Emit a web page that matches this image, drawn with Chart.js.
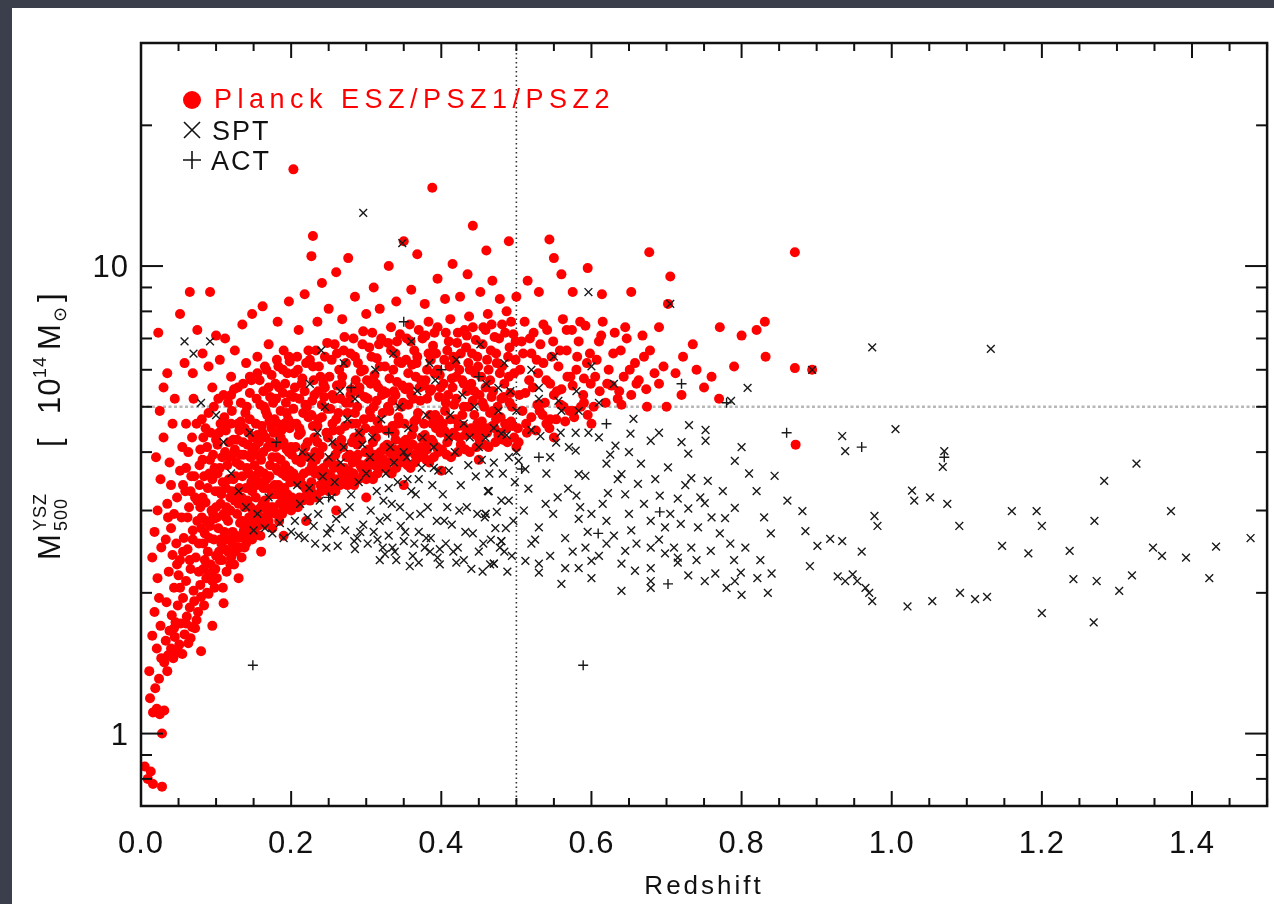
<!DOCTYPE html>
<html><head><meta charset="utf-8">
<script src="https://cdn.jsdelivr.net/npm/chart.js@4.4.1/dist/chart.umd.min.js"></script>
<style>
html,body{margin:0;padding:0;background:#3b3f4b;overflow:hidden;}
#wrap{position:absolute;left:0;top:0;width:1274px;height:904px;}
</style></head><body>
<div id="wrap"><canvas id="c" width="1274" height="904"></canvas></div>
<script>
// ---------- axis definitions ----------
const xMajorTicks = [0.0, 0.2, 0.4, 0.6, 0.8, 1.0, 1.2, 1.4];
const xTickLabels = ['0.0', '0.2', '0.4', '0.6', '0.8', '1.0', '1.2', '1.4'];
const yMajorTicks = [1, 10];
const yTickLabels = ['1', '10'];
const yMinorTicks = [0.7, 0.8, 0.9, 2, 3, 4, 5, 6, 7, 8, 9, 20, 30];
const xRange = [0, 1.5];
const yRange = [0.7, 30];
const refRedshift = 0.5;
const refMass = 5;
const seriesNames = ['Planck ESZ/PSZ1/PSZ2', 'SPT', 'ACT'];
const xTitle = 'Redshift';

// ---------- Planck (z, M500 [1e14 Msun]) ----------
const planckLowZ = [[0.005,0.85],[0.009,0.80],[0.013,0.83],[0.016,0.78],[0.028,0.77],[0.028,1.0],[0.016,1.11],[0.021,1.13],[0.025,1.10],[0.031,1.12],[0.012,1.19],[0.019,1.25],[0.024,1.31],[0.011,1.36],[0.027,1.45],[0.021,1.52],[0.015,1.62],[0.026,1.7],[0.018,1.82],[0.024,1.95],[0.015,2.38],[0.022,2.15],[0.027,2.5],[0.023,7.2],[0.035,3.1],
  [0.018,2.7],[0.022,3.0],[0.026,3.5],[0.02,3.9],[0.03,4.3],[0.025,4.9],[0.033,2.6],[0.036,2.9],[0.038,3.8],[0.03,5.5],[0.042,4.6],[0.035,5.9],[0.045,5.2]];
const planckA = [[0.031,1.42],[0.033,1.58],[0.034,1.91],[0.036,1.47],[0.037,2.22],[0.038,1.66],[0.040,1.52],[0.041,1.79],[0.042,2.41],[0.043,1.45],[0.044,2.05],[0.045,1.61],[0.046,1.73],[0.047,2.55],[0.048,1.49],[0.049,1.88],[0.05,2.18],[0.035,1.36],
  [0.040,2.75],[0.040,3.4],[0.044,2.95],[0.044,1.68],[0.048,3.2],[0.048,2.3],[0.052,3.65],[0.052,2.05],[0.056,3.4],[0.056,2.45],[0.060,3.7],[0.060,1.72]];
const planckB = [[0.051,1.55],[0.052,2.35],[0.053,1.72],[0.054,2.9],[0.055,1.48],[0.056,1.95],[0.057,2.62],[0.058,1.63],[0.059,3.3],[0.06,2.12],[0.061,1.78],[0.062,2.48],[0.063,1.56],[0.064,3.05],[0.065,1.86],[0.066,2.25],[0.067,3.55],[0.068,1.69],[0.069,2.72],[0.07,2.02],[0.071,1.92],[0.072,3.2],[0.073,2.38],[0.074,1.75],[0.075,2.85],[0.066,1.6],
  [0.062,2.9],[0.063,4.0],[0.065,2.35],[0.066,3.3],[0.068,4.3],[0.069,2.6],[0.071,3.55],[0.072,1.68],[0.074,4.6],[0.075,3.15],[0.077,2.22],[0.078,3.75],[0.079,4.05],[0.08,2.75]];
const planckC = [[0.076,1.82],[0.077,2.55],[0.078,3.4],[0.079,2.08],[0.08,1.96],[0.081,2.9],[0.082,3.85],[0.083,2.25],[0.084,1.88],[0.085,2.68],[0.086,3.12],[0.087,2.15],[0.088,4.1],[0.089,2.45],[0.09,1.99],[0.091,3.6],[0.092,2.78],[0.093,2.3],[0.094,3.0],[0.095,2.12],[0.096,3.95],[0.097,2.6],[0.098,2.05],[0.099,3.3],[0.1,2.4],[0.079,3.05],[0.085,2.35],[0.091,2.2],[0.097,2.88],[0.083,4.3],
  [0.081,4.7],[0.082,3.2],[0.083,2.55],[0.084,3.55],[0.086,4.5],[0.087,2.85],[0.088,2.0],[0.089,3.35],[0.09,4.85],[0.091,2.62],[0.092,3.85],[0.093,4.4],[0.094,2.2],[0.095,3.5],[0.096,2.95],[0.097,5.0],[0.098,3.7],[0.099,2.25],[0.1,4.25],[0.1,3.05]];
const planckD = [[0.101,2.15],[0.102,3.6],[0.103,2.75],[0.104,4.4],[0.105,2.35],[0.106,3.1],[0.107,2.55],[0.108,3.9],[0.109,2.05],[0.11,2.95],[0.111,4.75],[0.112,2.48],[0.113,3.35],[0.114,2.22],[0.115,3.75],[0.116,2.85],[0.117,4.2],[0.118,2.6],[0.119,3.2],[0.12,2.38],[0.121,4.9],[0.122,2.7],[0.123,3.5],[0.124,2.3],[0.125,4.05],[0.106,2.6],[0.113,2.9],[0.119,3.0],[0.104,3.3],[0.116,2.45],[0.122,3.95],[0.109,4.6],
  [0.101,2.9],[0.102,4.15],[0.103,5.2],[0.104,2.45],[0.105,3.7],[0.106,4.6],[0.107,3.25],[0.108,2.35],[0.109,3.45],[0.11,5.3],[0.111,2.7],[0.112,4.0],[0.113,4.45],[0.114,3.05],[0.115,2.6],[0.116,5.1],[0.117,3.5],[0.118,3.9],[0.119,2.3],[0.12,4.6],[0.121,3.3],[0.122,2.55],[0.123,4.25],[0.124,5.45],[0.125,3.15]];
const planckE = [[0.126,2.45],[0.127,3.8],[0.128,2.95],[0.129,4.6],[0.13,2.62],[0.131,3.35],[0.132,2.82],[0.133,5.1],[0.134,2.38],[0.135,3.55],[0.136,4.2],[0.137,2.72],[0.138,3.05],[0.139,4.85],[0.14,2.55],[0.141,3.7],[0.142,3.15],[0.143,4.4],[0.144,2.9],[0.145,5.35],[0.146,2.68],[0.147,3.45],[0.148,4.0],[0.149,3.0],[0.15,2.78],[0.128,3.25],[0.133,3.95],[0.138,2.5],[0.142,2.75],[0.146,3.9],[0.131,4.45],[0.148,3.3],
  [0.126,3.55],[0.127,2.65],[0.128,4.25],[0.129,5.5],[0.13,3.1],[0.131,2.5],[0.132,3.75],[0.133,4.65],[0.134,3.2],[0.135,2.85],[0.136,5.6],[0.137,3.95],[0.138,4.5],[0.139,2.62],[0.14,3.35],[0.141,5.0],[0.142,4.15],[0.143,2.8],[0.144,3.6],[0.145,4.7],[0.146,3.05],[0.147,5.7],[0.148,2.6],[0.149,4.3],[0.15,3.5]];
const planckF = [[0.151,2.7],[0.152,4.1],[0.153,3.2],[0.154,5.2],[0.155,2.88],[0.156,3.6],[0.157,3.02],[0.158,5.7],[0.159,2.65],[0.16,3.85],[0.161,4.55],[0.162,3.1],[0.163,3.35],[0.164,5.0],[0.165,2.8],[0.166,4.3],[0.167,3.5],[0.168,4.8],[0.169,3.0],[0.17,5.5],[0.171,2.95],[0.172,3.75],[0.173,4.2],[0.174,3.25],[0.175,2.75],[0.155,4.35],[0.159,3.45],[0.163,4.0],[0.167,2.92],[0.171,4.65],[0.153,3.95],[0.174,5.85],
  [0.151,3.75],[0.152,2.85],[0.153,4.6],[0.154,3.4],[0.155,5.9],[0.156,2.78],[0.157,4.2],[0.158,3.65],[0.159,5.05],[0.16,3.05],[0.161,2.9],[0.162,4.4],[0.163,5.4],[0.164,3.6],[0.165,3.15],[0.166,4.9],[0.167,6.0],[0.168,3.35],[0.169,4.1],[0.17,2.85],[0.171,3.55],[0.172,5.25],[0.173,3.05],[0.174,4.5],[0.175,3.9]];
const planckG = [[0.176,3.05],[0.177,4.4],[0.178,3.4],[0.179,5.6],[0.18,2.95],[0.181,3.9],[0.182,3.25],[0.183,6.1],[0.184,2.85],[0.185,4.15],[0.186,4.9],[0.187,3.3],[0.188,3.6],[0.189,5.35],[0.19,3.0],[0.191,4.6],[0.192,3.75],[0.193,5.1],[0.194,3.15],[0.195,5.9],[0.196,3.1],[0.197,4.0],[0.198,4.5],[0.199,3.45],[0.2,3.0],[0.178,4.7],[0.182,3.65],[0.186,4.3],[0.19,3.2],[0.194,4.85],[0.18,5.2],[0.198,6.25],
  [0.176,5.1],[0.177,3.25],[0.178,2.98],[0.179,4.1],[0.18,3.7],[0.181,6.3],[0.182,4.6],[0.183,3.4],[0.184,5.5],[0.185,3.1],[0.186,3.85],[0.187,4.45],[0.188,2.95],[0.189,6.0],[0.19,4.2],[0.191,3.35],[0.192,5.6],[0.193,3.55],[0.194,4.05],[0.195,3.25],[0.196,4.7],[0.197,6.4],[0.198,3.65],[0.199,5.3],[0.2,4.1]];
const planckH = [[0.201,3.2],[0.202,4.6],[0.203,3.6],[0.204,5.9],[0.205,3.1],[0.206,4.1],[0.207,3.45],[0.208,6.4],[0.209,3.05],[0.21,4.35],[0.211,5.2],[0.212,3.5],[0.213,3.8],[0.214,5.6],[0.215,3.15],[0.216,4.85],[0.217,3.95],[0.218,5.4],[0.219,3.35],[0.22,6.2],[0.221,3.25],[0.222,4.2],[0.223,4.75],[0.224,3.65],[0.225,3.15],[0.203,4.95],[0.207,3.85],[0.211,4.5],[0.215,3.4],[0.219,5.05],[0.205,5.5],[0.223,6.6],
  [0.201,3.95],[0.203,5.25],[0.205,3.55],[0.207,4.6],[0.209,6.0],[0.211,3.2],[0.213,4.4],[0.215,5.75],[0.217,3.6],[0.219,4.1],[0.221,5.0],[0.223,3.9],[0.225,6.3]];
const planckI = [[0.226,3.35],[0.227,4.8],[0.228,3.75],[0.229,6.1],[0.23,3.25],[0.231,4.3],[0.232,3.6],[0.233,6.6],[0.234,3.2],[0.235,4.55],[0.236,5.4],[0.237,3.65],[0.238,3.95],[0.239,5.8],[0.24,3.3],[0.241,5.05],[0.242,4.1],[0.243,5.6],[0.244,3.5],[0.245,6.4],[0.246,3.4],[0.247,4.4],[0.248,4.95],[0.249,3.8],[0.25,3.3],[0.228,5.15],[0.232,4.0],[0.236,4.7],[0.24,3.55],[0.244,5.25],[0.23,5.7],[0.248,6.85],
  [0.227,3.45],[0.229,4.55],[0.231,5.3],[0.233,3.85],[0.235,4.2],[0.237,6.1],[0.239,3.4],[0.241,4.75],[0.243,3.7],[0.245,5.5],[0.247,3.6],[0.249,4.3]];
const planckJ = [[0.251,3.45],[0.252,4.95],[0.253,3.85],[0.254,6.3],[0.255,3.35],[0.256,4.45],[0.257,3.7],[0.258,6.8],[0.259,3.3],[0.26,4.7],[0.261,5.55],[0.262,3.75],[0.263,4.05],[0.264,6.0],[0.265,3.4],[0.266,5.2],[0.267,4.25],[0.268,5.8],[0.269,3.6],[0.27,6.6],[0.271,3.5],[0.272,4.55],[0.273,5.1],[0.274,3.9],[0.275,3.4],[0.255,5.3],[0.259,4.15],[0.263,4.85],[0.267,3.65],[0.271,7.05],
  [0.251,5.8],[0.253,3.55],[0.255,4.6],[0.257,5.2],[0.259,3.95],[0.261,6.5],[0.263,3.5],[0.265,4.45],[0.267,5.6],[0.269,4.1],[0.271,3.7],[0.273,6.2],[0.275,4.85]];
const planckK = [[0.276,3.55],[0.277,5.1],[0.278,3.95],[0.279,6.5],[0.28,3.45],[0.281,4.6],[0.282,3.8],[0.283,7.0],[0.284,3.4],[0.285,4.85],[0.286,5.7],[0.287,3.85],[0.288,4.15],[0.289,6.2],[0.29,3.5],[0.291,5.35],[0.292,4.4],[0.293,5.95],[0.294,3.7],[0.295,6.8],[0.296,3.6],[0.297,4.7],[0.298,5.25],[0.299,4.0],[0.3,3.5],[0.28,5.45],[0.284,4.3],[0.288,5.0],[0.292,3.75],[0.296,7.25],
  [0.277,3.65],[0.279,5.3],[0.281,4.2],[0.283,3.6],[0.285,6.4],[0.287,4.6],[0.289,3.95],[0.291,5.5],[0.293,4.25],[0.295,3.75],[0.297,6.0],[0.299,4.5]];
const planckL = [[0.301,3.65],[0.302,5.2],[0.303,4.05],[0.304,6.7],[0.305,3.55],[0.306,4.75],[0.307,3.9],[0.308,7.2],[0.309,3.5],[0.31,5.0],[0.311,5.85],[0.312,3.95],[0.313,4.3],[0.314,6.35],[0.315,3.6],[0.316,5.5],[0.317,4.5],[0.318,6.1],[0.319,3.8],[0.32,7.0],[0.321,3.7],[0.322,4.85],[0.323,5.4],[0.324,4.1],[0.306,5.6],[0.31,4.45],[0.314,5.15],[0.318,3.85],
  [0.301,5.7],[0.303,3.8],[0.305,4.9],[0.307,6.4],[0.309,4.2],[0.311,3.75],[0.313,5.6],[0.315,4.65],[0.317,6.8],[0.319,4.0],[0.321,5.3],[0.323,3.85],[0.325,6.1]];
const planckM = [[0.326,3.75],[0.327,5.35],[0.328,4.15],[0.329,6.85],[0.33,3.65],[0.331,4.9],[0.332,4.0],[0.333,7.4],[0.334,3.6],[0.335,5.15],[0.336,6.0],[0.337,4.05],[0.338,4.4],[0.339,6.5],[0.34,3.7],[0.341,5.65],[0.342,4.6],[0.343,6.25],[0.344,3.9],[0.345,7.15],[0.346,3.8],[0.347,5.0],[0.348,5.55],[0.349,4.2],[0.331,5.75],[0.335,4.55],[0.339,5.3],[0.343,3.95],
  [0.327,4.45],[0.329,5.0],[0.331,4.0],[0.333,6.6],[0.335,3.85],[0.337,5.4],[0.339,4.25],[0.341,6.9],[0.343,4.75],[0.345,4.05],[0.347,6.2],[0.349,5.1]];
const planckN = [[0.351,3.85],[0.352,5.45],[0.353,4.25],[0.354,7.0],[0.355,3.75],[0.356,5.05],[0.357,4.1],[0.358,7.5],[0.359,3.7],[0.36,5.3],[0.361,6.15],[0.362,4.15],[0.363,4.5],[0.364,6.6],[0.365,3.8],[0.366,5.8],[0.367,4.7],[0.368,6.4],[0.369,4.0],[0.37,7.3],[0.371,3.9],[0.372,5.15],[0.373,5.7],[0.374,4.3],[0.356,5.9],[0.364,4.65],
  [0.351,4.6],[0.353,6.3],[0.355,4.0],[0.357,5.5],[0.359,6.9],[0.361,4.35],[0.363,5.2],[0.365,3.95],[0.367,6.2],[0.369,4.85],[0.371,5.5],[0.373,4.1],[0.375,7.0]];
const planckO = [[0.376,3.95],[0.377,5.55],[0.378,4.35],[0.379,7.1],[0.38,3.85],[0.381,5.2],[0.382,4.2],[0.383,7.6],[0.384,3.8],[0.385,5.4],[0.386,6.3],[0.387,4.25],[0.388,4.6],[0.389,6.75],[0.39,3.9],[0.391,5.9],[0.392,4.8],[0.393,6.5],[0.394,4.1],[0.395,7.4],[0.396,4.0],[0.397,5.25],[0.398,5.85],[0.399,4.4],[0.381,6.0],[0.389,4.75],
  [0.377,4.6],[0.379,5.7],[0.381,4.05],[0.383,6.5],[0.385,4.8],[0.387,5.45],[0.389,4.2],[0.391,7.2],[0.393,4.5],[0.395,6.0],[0.397,4.7],[0.399,5.5]];
const planckP = [[0.401,4.05],[0.403,5.6],[0.404,4.45],[0.406,7.2],[0.407,3.95],[0.409,5.3],[0.41,4.3],[0.412,7.7],[0.413,3.9],[0.415,5.5],[0.416,6.4],[0.418,4.35],[0.419,4.7],[0.421,6.85],[0.422,4.0],[0.424,6.0],[0.405,4.9],[0.411,6.1],[0.417,5.05],[0.423,4.55],[0.408,6.6],[0.42,5.8],
  [0.402,4.6],[0.404,6.3],[0.406,5.1],[0.408,4.2],[0.41,6.9],[0.412,4.7],[0.414,5.75],[0.416,4.4],[0.418,6.2],[0.42,5.2],[0.422,7.2],[0.424,4.3]];
const planckQ = [[0.426,4.15],[0.428,5.7],[0.429,4.55],[0.431,7.3],[0.432,4.05],[0.434,5.4],[0.435,4.4],[0.437,7.8],[0.438,4.0],[0.44,5.6],[0.441,6.5],[0.443,4.45],[0.444,4.8],[0.446,6.95],[0.447,4.1],[0.449,6.1],[0.43,5.0],[0.436,6.2],[0.442,5.15],[0.448,4.6],[0.433,6.7],[0.445,5.9],
  [0.426,6.5],[0.428,4.8],[0.43,5.6],[0.432,4.35],[0.434,7.1],[0.436,5.0],[0.438,6.0],[0.44,4.5],[0.442,7.4],[0.444,5.4],[0.446,4.35],[0.448,6.4]];
const planckR = [[0.451,4.25],[0.453,5.8],[0.454,4.65],[0.456,7.4],[0.457,4.15],[0.459,5.5],[0.46,4.5],[0.462,7.9],[0.463,4.1],[0.465,5.7],[0.466,6.6],[0.468,4.55],[0.469,4.9],[0.471,7.05],[0.472,4.2],[0.474,6.2],[0.455,5.1],[0.461,6.3],[0.467,5.25],[0.473,4.7],
  [0.451,5.3],[0.453,4.45],[0.455,6.8],[0.457,5.0],[0.459,7.3],[0.461,4.4],[0.463,6.0],[0.465,4.85],[0.467,7.5],[0.469,5.4],[0.471,4.5],[0.473,6.5]];
const planckS = [[0.476,4.35],[0.478,5.9],[0.479,4.75],[0.481,7.5],[0.482,4.25],[0.484,5.6],[0.485,4.6],[0.487,8.0],[0.488,4.2],[0.49,5.8],[0.491,6.7],[0.493,4.65],[0.494,5.0],[0.496,7.15],[0.497,4.3],[0.499,6.3],[0.48,5.2],[0.492,5.35],
  [0.475,5.0],[0.477,7.0],[0.479,4.4],[0.481,6.1],[0.483,5.25],[0.485,7.2],[0.487,4.5],[0.489,6.4],[0.491,5.1],[0.493,7.6],[0.495,4.55],[0.497,5.9],[0.499,6.9]];
const planckT = [[0.502,4.5],[0.505,6.0],[0.508,4.9],[0.511,7.6],[0.514,4.4],[0.517,5.7],[0.52,4.75],[0.523,7.2],[0.526,4.45],[0.529,5.9],[0.532,6.8],[0.535,4.8],[0.538,5.1],[0.541,7.3],[0.544,4.5],[0.547,6.4],[0.55,5.3],[0.512,5.35],[0.52,6.5],[0.528,5.05],[0.536,6.2],[0.545,5.6],[0.507,6.9],[0.54,4.6],
  [0.504,5.3],[0.509,6.5],[0.513,4.6],[0.518,7.0],[0.522,5.5],[0.527,6.3],[0.531,4.9],[0.536,7.5],[0.54,5.7],[0.545,4.7],[0.549,6.9]];
const planckU = [[0.553,4.7],[0.556,6.1],[0.559,5.05],[0.562,7.7],[0.565,4.65],[0.568,5.8],[0.571,4.9],[0.574,7.3],[0.577,4.75],[0.58,6.0],[0.583,6.9],[0.586,5.0],[0.589,5.3],[0.592,7.45],[0.595,4.8],[0.598,6.5],[0.56,5.45],[0.575,5.55],[0.59,5.75],[0.567,6.6],
  [0.554,5.4],[0.558,6.6],[0.563,5.0],[0.567,7.3],[0.572,5.8],[0.576,4.9],[0.581,6.4],[0.585,7.6],[0.59,5.1],[0.594,6.2],[0.599,5.6]];
const planckV = [[0.603,5.0],[0.607,6.3],[0.611,5.4],[0.615,7.6],[0.619,5.1],[0.623,6.0],[0.627,5.55],[0.631,7.2],[0.635,5.2],[0.639,6.6],[0.643,5.8],[0.647,7.0],[0.61,6.9],[0.64,5.05],
  [0.605,5.8],[0.613,7.1],[0.621,5.6],[0.629,6.5],[0.637,5.4],[0.645,7.4]];
const planckW = [[0.653,5.3],[0.658,6.2],[0.663,5.7],[0.668,7.1],[0.673,5.45],[0.678,6.6],[0.684,5.9],[0.69,7.4],[0.696,6.1],[0.651,6.0],[0.66,5.6],[0.67,6.4]];
const planckUpper = [[0.052,7.9],[0.058,6.2],[0.069,5.9],[0.06,4.6],[0.055,4.1],[0.065,8.8],[0.092,8.8],[0.075,7.3],[0.1,7.1],[0.082,6.5],[0.07,5.2],[0.095,5.5],[0.09,6.1],[0.105,6.3],[0.112,7.0],[0.12,5.8],[0.125,6.6],[0.135,7.5],[0.14,6.2],[0.148,7.9],[0.155,6.4],[0.162,8.2],[0.17,6.8],[0.182,7.6],[0.19,6.6],[0.197,8.4],[0.203,16.1],[0.12,5.3],[0.145,5.8],[0.165,6.1],
  [0.21,7.3],[0.218,8.7],[0.227,10.5],[0.229,11.6],[0.235,7.6],[0.241,9.2],[0.25,8.1],[0.26,9.7],[0.268,7.7],[0.276,10.4],[0.285,8.6],[0.3,7.9],[0.31,9.0],[0.318,8.1],[0.33,10.0],[0.34,8.4],[0.35,11.3],[0.36,8.9],[0.368,10.6],[0.378,8.3],[0.388,14.7],[0.395,9.4],[0.405,8.5],[0.415,10.1],[0.425,8.6],[0.435,9.6],[0.442,12.2],[0.452,8.8],[0.46,10.8],[0.468,9.3],[0.478,8.5],[0.49,11.3],[0.5,8.6],[0.515,9.3],[0.544,11.4],[0.55,10.4],[0.53,8.8],[0.56,9.6],[0.575,8.8],[0.595,9.9],[0.614,8.7],[0.653,8.8],[0.677,10.7],[0.702,8.3],[0.705,9.5]];
const planckLower = [[0.08,1.5],[0.095,1.7],[0.11,1.9],[0.13,2.15],[0.16,2.45],[0.19,2.65],[0.22,2.85],[0.26,3.0],[0.3,3.2],[0.35,3.4],[0.4,3.65],[0.45,3.85],[0.5,4.1],[0.55,4.3],[0.6,4.6],[0.503,4.2]];
const planckHighZ = [[0.712,5.9],[0.722,6.4],[0.735,6.8],[0.74,6.0],[0.75,5.5],[0.76,5.8],[0.77,5.2],[0.771,7.4],[0.79,6.1],[0.8,7.1],[0.82,7.3],[0.831,7.6],[0.832,6.4],[0.871,6.05],[0.872,4.15],[0.894,6.0],[0.871,10.7],[0.674,5.0],[0.69,5.6],[0.7,5.0],[0.72,5.3]];

// ---------- SPT ----------
const sptLowZ = [[0.058,6.9],[0.092,6.9],[0.08,5.1],[0.1,4.8],[0.12,3.6],[0.14,3.05],[0.155,2.95],[0.165,2.75],[0.175,2.68],[0.19,2.62],[0.2,2.7],[0.15,2.72],[0.13,3.3],[0.11,4.2],[0.07,6.5],[0.185,2.82],[0.17,3.2],[0.145,4.4]];
const sptZ02 = [[0.205,2.85],[0.212,3.1],[0.218,2.62],[0.224,3.35],[0.23,2.78],[0.236,2.95],[0.242,3.55],[0.248,2.68],[0.254,3.2],[0.26,2.88],[0.266,3.8],[0.272,2.72],[0.278,3.05],[0.284,2.58],[0.29,3.45],[0.296,2.8],[0.215,4.0],[0.235,4.4],[0.255,4.2],[0.275,4.7],[0.295,4.15],[0.245,5.0],[0.265,5.4],[0.285,5.2],[0.225,5.6],[0.262,2.52],[0.288,2.62],[0.296,13.0],[0.27,6.2],[0.24,6.6],
  [0.208,3.4],[0.222,2.9],[0.232,2.55],[0.238,3.15],[0.252,2.75],[0.258,3.45],[0.268,2.95],[0.28,3.25],[0.292,2.7],[0.3,3.6],[0.226,3.9],[0.25,3.9],[0.27,4.1],[0.29,4.4],[0.21,2.65],[0.247,2.5],[0.285,2.48]];
const sptZ03 = [[0.302,2.55],[0.306,3.0],[0.31,2.7],[0.314,3.3],[0.318,2.85],[0.322,2.5],[0.326,3.6],[0.33,2.65],[0.334,3.1],[0.338,2.45],[0.342,3.45],[0.346,2.78],[0.35,2.58],[0.354,3.9],[0.358,2.92],[0.362,2.4],[0.366,3.25],[0.37,2.7],[0.374,3.7],[0.378,2.5],[0.382,3.05],[0.386,2.62],[0.39,4.1],[0.394,2.85],[0.398,2.48],[0.308,4.3],[0.32,4.7],[0.332,4.1],[0.344,5.0],[0.356,4.5],[0.368,5.4],[0.38,4.8],[0.392,5.7],[0.312,6.0],[0.336,6.5],[0.36,6.9],[0.384,6.2],[0.348,11.2],[0.34,2.35],[0.37,2.32],[0.395,2.38],[0.325,2.42],[0.355,3.5],[0.375,4.3],
  [0.305,3.9],[0.315,2.6],[0.323,3.15],[0.328,2.9],[0.337,3.8],[0.345,3.05],[0.352,2.7],[0.36,3.3],[0.364,2.55],[0.372,2.95],[0.38,2.62],[0.388,3.4],[0.396,3.65],[0.33,3.35],[0.35,4.0],[0.37,3.5],[0.39,3.7],[0.318,2.35],[0.358,2.28],[0.398,2.3],[0.335,2.5],[0.385,2.45]];
const sptZ04 = [[0.402,3.25],[0.406,2.55],[0.41,3.65],[0.414,2.8],[0.418,4.0],[0.422,2.5],[0.426,3.4],[0.43,2.35],[0.434,3.05],[0.438,4.3],[0.442,2.68],[0.446,3.55],[0.45,2.45],[0.454,3.85],[0.458,2.9],[0.462,3.3],[0.466,2.6],[0.47,4.5],[0.474,2.98],[0.478,2.5],[0.482,3.6],[0.486,2.75],[0.49,3.15],[0.494,2.4],[0.498,3.45],[0.412,4.8],[0.428,5.3],[0.444,5.0],[0.46,5.6],[0.476,4.9],[0.492,5.4],[0.42,6.3],[0.452,6.8],[0.484,6.2],[0.44,2.25],[0.465,2.3],[0.488,2.22],[0.459,2.95],[0.463,3.3],[0.47,2.31],[0.48,2.58],[0.487,4.35],[0.5,4.0],
  [0.404,2.85],[0.408,3.05],[0.416,2.45],[0.424,3.0],[0.432,2.7],[0.436,3.75],[0.448,2.95],[0.456,2.55],[0.464,3.6],[0.472,2.75],[0.48,3.15],[0.484,2.45],[0.496,2.85],[0.41,4.3],[0.43,4.6],[0.45,4.1],[0.47,3.8],[0.49,3.9],[0.42,2.32],[0.455,2.22]];
const sptZ05 = [[0.656,4.71],[0.730,4.57],[0.752,4.46],[0.752,4.23],[0.520,4.46],[0.532,4.33],[0.553,4.19],[0.579,4.40],[0.596,4.40],[0.559,4.40],[0.579,4.03],[0.632,4.13],[0.652,4.38],[0.679,4.23],[0.503,3.83],[0.512,3.68],[0.583,3.59],[0.592,3.56],[0.620,3.78],[0.640,3.59],[0.666,3.78],[0.702,3.71],[0.729,3.97],[0.733,3.52],[0.755,3.47],[0.791,3.83],[0.516,3.34],[0.569,3.34],[0.580,3.23],[0.622,3.27],[0.645,3.25],[0.662,3.42],[0.691,3.23],[0.715,3.18],[0.729,3.03],[0.751,3.11],[0.778,2.89],[0.791,3.04],[0.463,3.30],[0.459,2.95],[0.539,3.10],[0.549,2.95],[0.583,2.88],[0.600,2.95],[0.620,2.85],[0.653,2.72],[0.679,2.85],[0.698,2.76],[0.719,2.81],[0.742,2.76],[0.771,2.68],[0.530,2.76],[0.520,2.55],[0.565,2.62],[0.592,2.50],[0.620,2.55],[0.645,2.46],[0.679,2.50],[0.698,2.43],[0.715,2.38],[0.733,2.50],[0.759,2.46],[0.839,2.68],[0.512,2.34],[0.530,2.31],[0.565,2.26],[0.583,2.26],[0.600,2.34],[0.640,2.31],[0.658,2.23],[0.679,2.26],[0.679,2.12],[0.679,2.05],[0.715,2.32],[0.729,2.18],[0.751,2.12],[0.799,2.21],[0.821,2.15],[0.791,2.12],[0.530,2.21],[0.560,2.09],[0.600,2.15],[0.640,2.02],[0.470,2.31],[0.480,2.58],
  [0.476,5.49],[0.53,5.49],[0.556,5.15],[0.583,4.90],[0.786,5.15],[0.808,5.49],[0.459,4.29],[0.48,4.38],[0.5,4.9],[0.53,5.2],[0.56,4.9],[0.58,5.4],[0.61,5.1],[0.63,5.6],[0.596,8.8],[0.705,8.3],[0.52,6.0],[0.55,6.4],[0.6,6.1],
  [0.51,3.0],[0.525,2.6],[0.54,3.6],[0.545,2.4],[0.555,3.2],[0.575,2.45],[0.585,3.05],[0.595,2.7],[0.61,2.4],[0.615,3.1],[0.63,2.65],[0.635,3.5],[0.65,2.95],[0.66,2.55],[0.67,3.1],[0.685,3.5],[0.69,2.6],[0.705,2.95],[0.71,2.5],[0.725,3.4],[0.74,2.35],[0.745,3.2],[0.76,2.9],[0.765,2.2],[0.775,3.3],[0.785,2.55],[0.57,4.1],[0.61,4.3],[0.65,4.0],[0.69,4.4],[0.72,4.2],[0.545,3.9],[0.625,3.95]];
const sptZ08 = [[0.8,4.1],[0.81,3.6],[0.82,3.3],[0.83,2.9],[0.805,2.5],[0.825,2.35],[0.84,2.2],[0.79,2.35],[0.78,2.05],[0.8,1.98],[0.835,2.0],
  [0.844,3.56],[0.861,3.15],[0.881,2.99],[0.885,2.71],[0.901,2.52],[0.918,2.61],[0.934,2.58],[0.891,2.28],[0.928,2.17],[0.938,2.12],[0.948,2.19],[0.954,2.12],[0.974,1.92],[0.981,2.78],[0.977,2.92],[0.934,4.33],[0.938,4.02],[0.974,6.7],[0.894,6.0],[0.96,2.45],[0.965,2.05],[0.97,2.0]];
const sptZ10 = [[1.005,4.48],[1.027,3.31],[1.03,3.15],[1.051,3.2],[1.07,4.02],[1.068,3.72],[1.074,3.1],[1.09,2.78],[1.091,2.0],[1.111,1.94],[1.127,1.96],[1.147,2.52],[1.16,2.99],[1.182,2.43],[1.193,2.99],[1.2,2.78],[1.237,2.46],[1.242,2.14],[1.27,2.85],[1.273,2.12],[1.283,3.47],[1.269,1.73],[1.303,2.02],[1.32,2.18],[1.326,3.78],[1.348,2.5],[1.372,2.99],[1.392,2.38],[1.423,2.15],[1.432,2.51],[1.478,2.62],[1.36,2.4],[1.2,1.81],[1.054,1.92],[1.021,1.87],[1.132,6.65]];

// ---------- ACT ----------
const act = [[0.149,1.4],[0.589,1.4],[0.691,2.98],[0.702,2.09],[0.609,2.68],[0.507,3.68],[0.96,4.1],[1.07,3.9],[0.78,5.1],[0.4,6.0],[0.35,7.6],[0.28,5.5],[0.45,5.8],[0.25,3.2],[0.53,3.9],[0.86,4.4],[0.62,4.6],[0.72,5.6],[0.33,4.4],[0.18,4.2]];

const planck = [].concat(planckLowZ, planckA, planckB, planckC, planckD, planckE, planckF, planckG, planckH, planckI, planckJ, planckK, planckL, planckM, planckN, planckO, planckP, planckQ, planckR, planckS, planckT, planckU, planckV, planckW, planckUpper, planckLower, planckHighZ);
const spt = [].concat(sptLowZ, sptZ02, sptZ03, sptZ04, sptZ05, sptZ08, sptZ10);
const toXY = arr => arr.map(p => ({x: p[0], y: p[1]}));

const FONT = '"Liberation Sans", Arial, sans-serif';

const decor = {
  id: 'decor',
  beforeDraw(chart) {
    const ctx = chart.ctx;
    ctx.save();
    ctx.fillStyle = '#3b3f4b';
    ctx.fillRect(0, 0, chart.width, chart.height);
    ctx.fillStyle = '#ffffff';
    ctx.fillRect(12, 8, chart.width - 12, chart.height - 8);
    ctx.restore();
  },
  beforeDatasetsDraw(chart) {
    const ctx = chart.ctx, a = chart.chartArea;
    const xs = chart.scales.x, ys = chart.scales.y;
    ctx.save();
    const px = xs.getPixelForValue(refRedshift);
    ctx.strokeStyle = '#333';
    ctx.lineWidth = 1.6;
    ctx.setLineDash([1.5, 3]);
    ctx.beginPath(); ctx.moveTo(px, a.bottom); ctx.lineTo(px, a.top); ctx.stroke();
    const py = ys.getPixelForValue(refMass);
    ctx.strokeStyle = '#b8b8b8';
    ctx.lineWidth = 2.5;
    ctx.setLineDash([3, 2.5]);
    ctx.beginPath(); ctx.moveTo(a.left, py); ctx.lineTo(a.right, py); ctx.stroke();
    ctx.restore();
  },
  afterDatasetsDraw(chart) {
    const ctx = chart.ctx, a = chart.chartArea;
    const xs = chart.scales.x, ys = chart.scales.y;
    ctx.save();
    ctx.strokeStyle = '#111';
    ctx.setLineDash([]);
    ctx.lineWidth = 2.5;
    ctx.strokeRect(a.left, a.top, a.right - a.left, a.bottom - a.top);
    ctx.lineWidth = 2;
    const xMinor = [];
    for (let v = 0.05; v < xRange[1] + 1e-9; v += 0.05) {
      const r = Math.round(v * 100) / 100;
      if (!xMajorTicks.some(m => Math.abs(m - r) < 1e-6)) xMinor.push(r);
    }
    const tick = (x1, y1, x2, y2) => { ctx.beginPath(); ctx.moveTo(x1, y1); ctx.lineTo(x2, y2); ctx.stroke(); };
    xMajorTicks.forEach(v => { const p = xs.getPixelForValue(v); tick(p, a.bottom, p, a.bottom - 15); tick(p, a.top, p, a.top + 15); });
    xMinor.forEach(v => { const p = xs.getPixelForValue(v); tick(p, a.bottom, p, a.bottom - 8); tick(p, a.top, p, a.top + 8); });
    yMajorTicks.forEach(v => { const p = ys.getPixelForValue(v); tick(a.left, p, a.left + 22, p); tick(a.right, p, a.right - 22, p); });
    yMinorTicks.forEach(v => { const p = ys.getPixelForValue(v); tick(a.left, p, a.left + 11, p); tick(a.right, p, a.right - 11, p); });
    ctx.restore();
  },
  afterDraw(chart) {
    const ctx = chart.ctx, a = chart.chartArea;
    const xs = chart.scales.x, ys = chart.scales.y;
    ctx.save();
    ctx.fillStyle = '#111';
    ctx.font = '31px ' + FONT;
    ctx.textAlign = 'center';
    ctx.textBaseline = 'alphabetic';
    ctx.letterSpacing = '1px';
    xMajorTicks.forEach((v, i) => ctx.fillText(xTickLabels[i], xs.getPixelForValue(v), 853));
    ctx.textAlign = 'right';
    yMajorTicks.forEach((v, i) => ctx.fillText(yTickLabels[i], 129, ys.getPixelForValue(v) + 11));
    ctx.font = '26px ' + FONT;
    ctx.textAlign = 'center';
    ctx.letterSpacing = '3px';
    ctx.fillText(xTitle, (a.left + a.right) / 2, 894);
    ctx.letterSpacing = '1px';
    ctx.translate(60, 560);
    ctx.rotate(-Math.PI / 2);
    ctx.textAlign = 'left';
    const big = '31px ' + FONT, small = '18px ' + FONT;
    ctx.font = big; ctx.fillText('M', 0, 0);
    ctx.font = small; ctx.fillText('YSZ', 29, -14); ctx.fillText('500', 29, 7);
    ctx.font = big; ctx.fillText('[', 113, 0);
    ctx.fillText('10', 146, 0);
    ctx.font = small; ctx.fillText('14', 182, -14);
    ctx.font = big; ctx.fillText('M', 210, 0);
    ctx.font = small; ctx.fillText('\u2299', 238, 6);
    ctx.font = big; ctx.fillText(']', 258, 0);
    ctx.restore();

    ctx.save();
    const lx = 192;
    ctx.fillStyle = '#ff0000';
    ctx.beginPath(); ctx.arc(lx, 100, 9, 0, Math.PI * 2); ctx.fill();
    ctx.font = '27px ' + FONT;
    ctx.textAlign = 'left';
    ctx.textBaseline = 'alphabetic';
    ctx.letterSpacing = '5.5px';
    ctx.fillText(seriesNames[0], 214, 108);
    ctx.fillStyle = '#111';
    ctx.strokeStyle = '#111';
    ctx.lineWidth = 1.6;
    ctx.beginPath(); ctx.moveTo(lx - 8, 122); ctx.lineTo(lx + 8, 138); ctx.moveTo(lx - 8, 138); ctx.lineTo(lx + 8, 122); ctx.stroke();
    ctx.beginPath(); ctx.moveTo(lx - 9, 160); ctx.lineTo(lx + 9, 160); ctx.moveTo(lx, 151); ctx.lineTo(lx, 169); ctx.stroke();
    ctx.letterSpacing = '2px';
    ctx.fillText(seriesNames[1], 212, 140);
    ctx.fillText(seriesNames[2], 211, 170);
    ctx.restore();
  }
};

new Chart(document.getElementById('c'), {
  type: 'scatter',
  data: {
    datasets: [
      { label: seriesNames[0], data: toXY(planck), pointStyle: 'circle', pointRadius: 5, pointBackgroundColor: '#ff0000', pointBorderColor: '#ff0000', pointBorderWidth: 0, order: 3 },
      { label: seriesNames[1], data: toXY(spt), pointStyle: 'crossRot', pointRadius: 5.5, pointBorderColor: '#1a1a1a', pointBorderWidth: 1.4, order: 2 },
      { label: seriesNames[2], data: toXY(act), pointStyle: 'cross', pointRadius: 5, pointBorderColor: '#1a1a1a', pointBorderWidth: 1.4, order: 1 }
    ]
  },
  options: {
    responsive: false,
    animation: false,
    devicePixelRatio: 1,
    layout: { padding: { left: 141, top: 43, right: 2, bottom: 98 } },
    scales: {
      x: { type: 'linear', min: xRange[0], max: xRange[1], display: false },
      y: { type: 'logarithmic', min: yRange[0], max: yRange[1], display: false }
    },
    plugins: { legend: { display: false }, tooltip: { enabled: false } }
  },
  plugins: [decor]
});
</script>
</body></html>
